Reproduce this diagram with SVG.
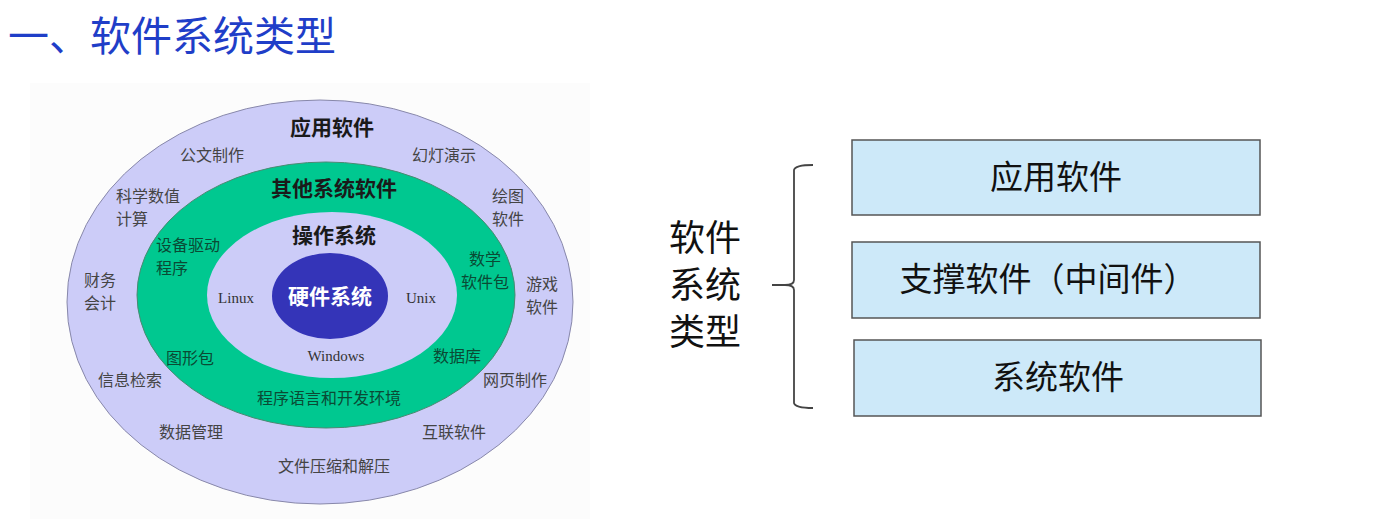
<svg xmlns="http://www.w3.org/2000/svg" width="1385" height="531" viewBox="0 0 1385 531">
  <style>
    .cjk { font-family: "Noto Sans CJK SC", "Noto Sans", sans-serif; }
    .ser { font-family: "Liberation Serif", "Noto Sans CJK SC", serif; }
    .lbl { font-family: "Noto Sans CJK SC", sans-serif; font-size: 16px; fill: #444; text-anchor: middle; }
    .grn { font-family: "Noto Sans CJK SC", sans-serif; font-size: 16px; fill: #0a4a34; text-anchor: middle; }
    .ring { font-family: "Noto Sans CJK SC", sans-serif; font-size: 21px; font-weight: bold; fill: #1a1a1a; text-anchor: middle; }
    .box rect { fill: #cde9f9; stroke: #555; stroke-width: 1.5; }
    .box text { font-family: "Noto Sans CJK SC", sans-serif; font-size: 33px; fill: #111; text-anchor: middle; }
  </style>

  <rect width="1385" height="531" fill="#ffffff"/>

  <!-- heading -->
  <text x="8" y="51" class="cjk" font-size="41" fill="#1f3ec8">一、软件系统类型</text>

  <!-- layered ellipse chart -->
  <g id="layer-chart">
    <rect x="30" y="83" width="560" height="436" fill="#fcfcfc"/>
    <ellipse id="app-layer" cx="320" cy="302" rx="253" ry="202" fill="#ccccf8" stroke="#8888aa" stroke-width="1"/>
    <ellipse id="other-sys-layer" cx="326" cy="295" rx="189" ry="133" fill="#00c890" stroke="#4a8a72" stroke-width="1"/>
    <ellipse id="os-layer" cx="332" cy="295" rx="125" ry="83" fill="#ccccf8"/>
    <ellipse id="hw-layer" cx="330" cy="296" rx="58" ry="43" fill="#3434b8"/>

    <text x="332" y="135" class="ring">应用软件</text>
    <text x="334" y="196" class="ring">其他系统软件</text>
    <text x="334" y="243" class="ring">操作系统</text>
    <text x="330" y="304" class="cjk" font-size="21" font-weight="bold" fill="#ffffff" text-anchor="middle">硬件系统</text>

    <text x="236" y="303" class="ser" font-size="15" fill="#333" text-anchor="middle">Linux</text>
    <text x="421" y="303" class="ser" font-size="15" fill="#333" text-anchor="middle">Unix</text>
    <text x="336" y="361" class="ser" font-size="15" fill="#333" text-anchor="middle">Windows</text>

    <text x="212" y="161" class="lbl">公文制作</text>
    <text x="444" y="161" class="lbl">幻灯演示</text>
    <text x="148" y="202" class="lbl">科学数值</text>
    <text x="132" y="225" class="lbl">计算</text>
    <text x="508" y="202" class="lbl">绘图</text>
    <text x="508" y="225" class="lbl">软件</text>
    <text x="100" y="286" class="lbl">财务</text>
    <text x="100" y="309" class="lbl">会计</text>
    <text x="542" y="290" class="lbl">游戏</text>
    <text x="542" y="313" class="lbl">软件</text>
    <text x="130" y="386" class="lbl">信息检索</text>
    <text x="515" y="386" class="lbl">网页制作</text>
    <text x="191" y="438" class="lbl">数据管理</text>
    <text x="454" y="438" class="lbl">互联软件</text>
    <text x="334" y="472" class="lbl">文件压缩和解压</text>

    <text x="188" y="251" class="grn">设备驱动</text>
    <text x="172" y="274" class="grn">程序</text>
    <text x="485" y="265" class="grn">数学</text>
    <text x="485" y="288" class="grn">软件包</text>
    <text x="190" y="364" class="grn">图形包</text>
    <text x="457" y="362" class="grn">数据库</text>
    <text x="329" y="404" class="grn">程序语言和开发环境</text>
  </g>

  <!-- classification label -->
  <g id="category-label">
    <text x="705" y="251" class="cjk" font-size="36" fill="#111" text-anchor="middle">软件</text>
    <text x="705" y="298" class="cjk" font-size="36" fill="#111" text-anchor="middle">系统</text>
    <text x="705" y="345" class="cjk" font-size="36" fill="#111" text-anchor="middle">类型</text>
  </g>

  <!-- brace grouping the three kinds -->
  <g id="connectors" fill="none" stroke="#444" stroke-width="1.8">
    <path d="M813,165 Q795,165 794,170 L794,280 Q794,285 785,285 L772,285 M785,285 Q794,285 794,290 L794,403 Q795,408 813,408"/>
  </g>

  <g id="box-app" class="box">
    <rect x="852" y="140" width="408" height="75"/>
    <text x="1056" y="189">应用软件</text>
  </g>
  <g id="box-support" class="box">
    <rect x="852" y="242" width="408" height="76"/>
    <text x="1048" y="291">支撑软件（中间件）</text>
  </g>
  <g id="box-system" class="box">
    <rect x="854" y="340" width="407" height="76"/>
    <text x="1058" y="389">系统软件</text>
  </g>
</svg>
